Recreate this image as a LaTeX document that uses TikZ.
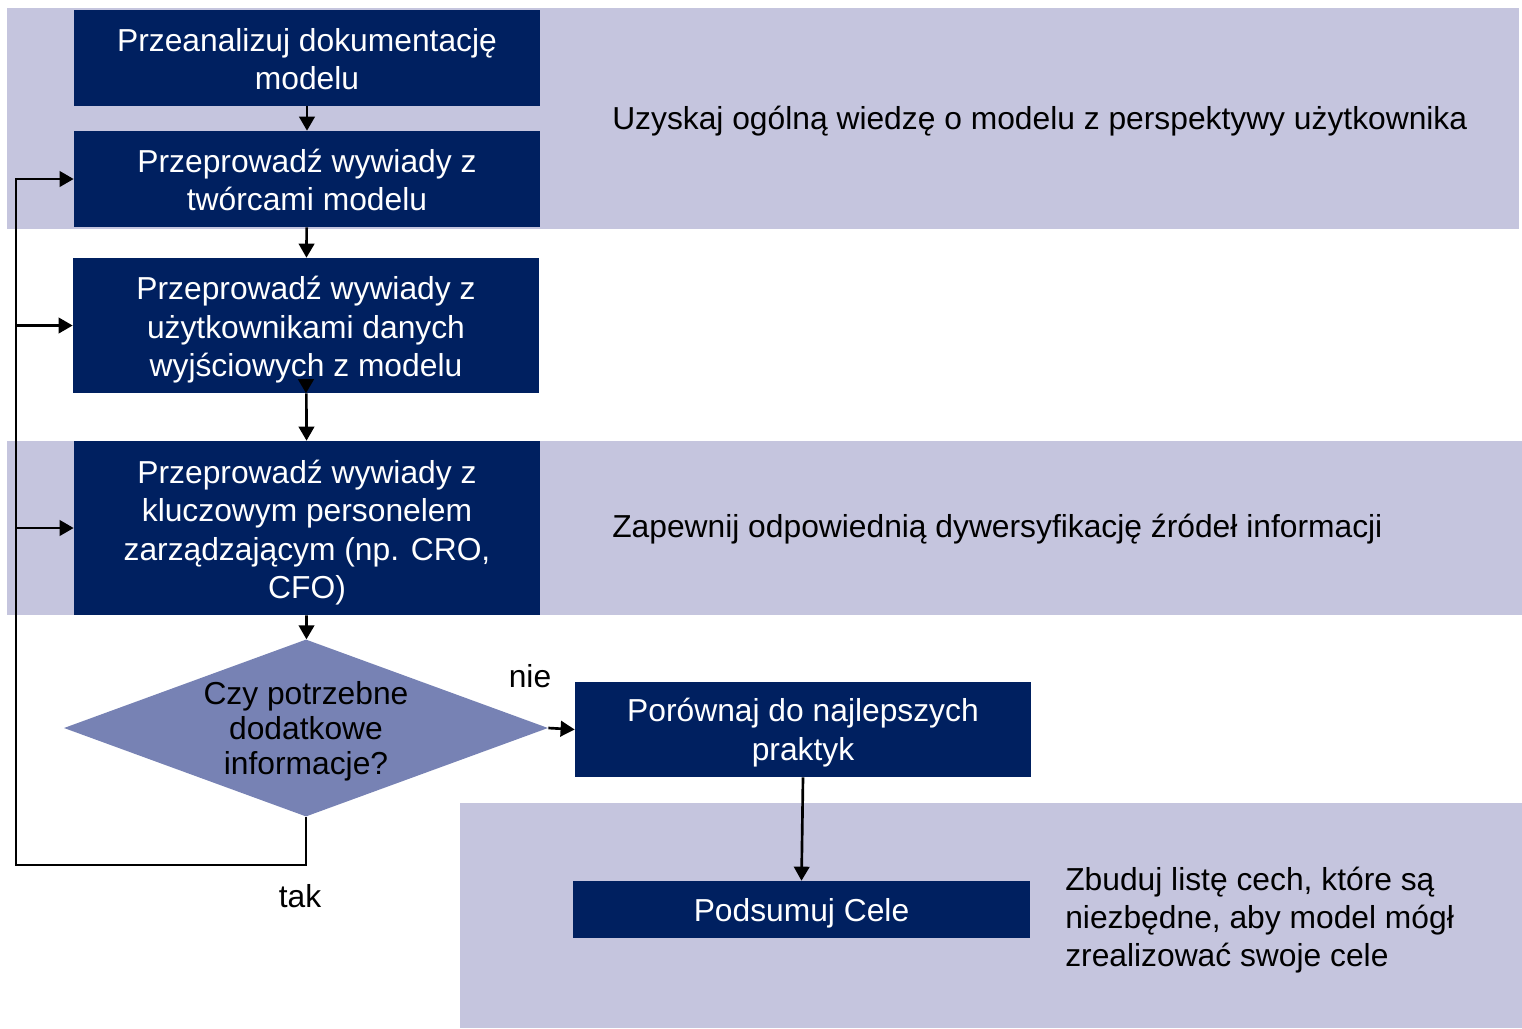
\documentclass[tikz,border=0pt]{standalone}
\usepackage{fontspec}
\setmainfont{Liberation Sans}
\usetikzlibrary{shapes.geometric,arrows.meta}
\definecolor{navy}{RGB}{0,32,96}
\definecolor{bandfill}{RGB}{197,197,222}
\definecolor{diamfill}{RGB}{119,130,180}
\newcommand{\topgap}[1]{\rule{0pt}{#1}}

\begin{document}
\begin{tikzpicture}[x=0.025cm, y=-0.025cm, font=\fontsize{22.6}{27.3}\selectfont]
  \tikzstyle{stepbox}=[fill=navy, text=white, align=center, inner sep=0pt, minimum width=11.65cm]
  \tikzstyle{decision}=[diamond, aspect=2.73, fill=diamfill, align=center, inner sep=-4pt,
    minimum width=12.1cm, minimum height=4.425cm, font=\fontsize{22.6}{24.6}\selectfont]
  \tikzstyle{arr}=[-{Triangle[length=10pt,width=11pt]}, line width=1.9pt]
  \useasboundingbox (0,0) rectangle (1522,1028);

  % Background bands
  \fill[bandfill] (7,8) rectangle (1519,229);
  \fill[bandfill] (7,441) rectangle (1522,615);
  \fill[bandfill] (460,803) rectangle (1522,1028);

  % Node definitions
  \node[stepbox, minimum height=2.4cm] (n1) at (307,58) {\topgap{18pt}Przeanalizuj dokumentację\\modelu};
  \node[stepbox, minimum height=2.4cm] (n2) at (307,179) {\topgap{18pt}Przeprowadź wywiady z\\twórcami modelu};
  \node[stepbox, minimum height=3.375cm] (n3) at (306,325.5) {\topgap{23pt}Przeprowadź wywiady z\\użytkownikami danych\\wyjściowych z modelu};
  \node[stepbox, minimum height=4.35cm] (n4) at (307,528) {\topgap{23pt}Przeprowadź wywiady z\\kluczowym personelem\\zarządzającym (np. CRO,\\CFO)};
  \node[decision] (dec) at (306,728) {\topgap{21pt}Czy potrzebne\\dodatkowe\\informacje?};
  \node[stepbox, minimum width=11.4cm, minimum height=2.375cm] (n5) at (803,729.5) {\topgap{21pt}Porównaj do najlepszych\\praktyk};
  \node[stepbox, minimum width=11.425cm, minimum height=1.425cm] (n6) at (801.5,909.5) {\topgap{22pt}Podsumuj Cele};

  % Side notes
  \node[anchor=west, inner sep=0pt] (t1) at (612,121) {Uzyskaj ogólną wiedzę o modelu z perspektywy użytkownika};
  \node[anchor=west, inner sep=0pt] (t2) at (612,529) {Zapewnij odpowiednią dywersyfikację źródeł informacji};
  \node[anchor=west, inner sep=0pt, align=left] (t3) at (1065,920) {Zbuduj listę cech, które są\\niezbędne, aby model mógł\\zrealizować swoje cele};
  \node (nie) at (530,676) {nie};
  \node (tak) at (300,896) {tak};
  \coordinate (lp) at (16,865);

  % Edge definitions
  \draw[arr] (n1) -- (n2);
  \draw[arr] (n2) -- (n3);
  \draw[arr] ([yshift=10pt]n3.south) -- (n3.south);
  \draw[arr] (n3) -- (n4);
  \draw[arr] (n4) -- (dec);
  \draw[arr] (dec.east) -- (n5.west);
  \draw[arr] (n5.south) -- (n6.north);
  \draw[arr] (dec.south) |- (lp) |- (n2.west);
  \draw[arr] (lp |- n3.west) -- (n3.west);
  \draw[arr] (lp |- n4.west) -- (n4.west);
\end{tikzpicture}
\end{document}
